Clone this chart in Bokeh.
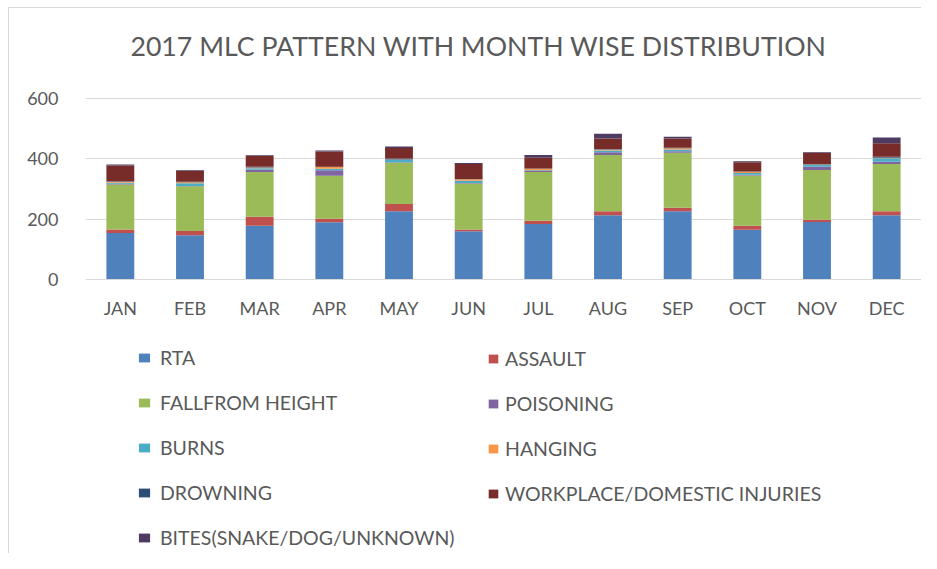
from bokeh.plotting import figure
from bokeh.models import Legend, LegendItem, Range1d, FactorRange, ColumnDataSource, Label
from bokeh.embed import file_html
from bokeh.resources import INLINE

months = ["JAN", "FEB", "MAR", "APR", "MAY", "JUN", "JUL", "AUG", "SEP", "OCT", "NOV", "DEC"]
rta       = [154, 147, 178, 190, 226, 160, 184, 213, 226, 165, 191, 213]
assault   = [12, 14, 30, 11, 24, 6, 11, 13, 12, 13, 7, 13]
fall      = [149, 148, 148, 143, 137, 152, 161, 187, 182, 167, 165, 157]
poisoning = [2, 1, 8, 18, 2, 2, 4, 9, 5, 2, 11, 7]
burns     = [4, 9, 5, 5, 8, 7, 2, 6, 6, 6, 6, 12]
hanging   = [3, 3, 2, 6, 1, 5, 5, 3, 4, 4, 1, 2]
drowning  = [2, 2, 3, 1, 3, 1, 1, 2, 2, 1, 1, 3]
workplace = [52, 36, 35, 50, 35, 50, 36, 34, 30, 31, 37, 45]
bites     = [3, 2, 3, 4, 5, 3, 9, 16, 6, 3, 3, 19]

series_names = ["RTA", "ASSAULT", "FALLFROM HEIGHT", "POISONING", "BURNS", "HANGING",
                "DROWNING", "WORKPLACE/DOMESTIC INJURIES", "BITES(SNAKE/DOG/UNKNOWN)"]
series_values = [rta, assault, fall, poisoning, burns, hanging, drowning, workplace, bites]
colors = ["#4F81BD", "#C0504D", "#9BBB59", "#8064A2", "#4BACC6", "#F79646",
          "#2C4D75", "#772C2A", "#4D3B62"]
y_ticks = [0, 200, 400, 600]
y_max = 600
title_text = "2017 MLC PATTERN WITH MONTH WISE DISTRIBUTION"

FONT = "Lato"
TXT = "#595959"
GRID = "#D9D9D9"

# layout (pixels): value axis 0..600 spans 181 px; the frame is extended up and
# down so that the title and the legends can sit inside it without clipping
W, H = 921, 553
FRAME_TOP = 8
FRAME_BOTTOM = 551
TOP_TICK_PX = 98
ZERO_PX = 279
px_per_unit = (ZERO_PX - TOP_TICK_PX) / y_max
y_hi = y_max + (TOP_TICK_PX - FRAME_TOP) / px_per_unit
y_lo = y_max - (FRAME_BOTTOM - TOP_TICK_PX) / px_per_unit

keys = ["s%d" % i for i in range(len(series_names))]
data = {"month": months}
for k, v in zip(keys, series_values):
    data[k] = v
source = ColumnDataSource(data)

p = figure(width=W, height=H, x_range=FactorRange(*months), y_range=Range1d(y_lo, y_hi),
           output_backend="svg", toolbar_location=None,
           min_border_left=85, min_border_right=0, min_border_top=FRAME_TOP,
           min_border_bottom=H - FRAME_BOTTOM)
p.styles = {
    "background": "linear-gradient(#D9D9D9, #D9D9D9) 8px 7px / 1px 100% no-repeat, "
                  "linear-gradient(#D9D9D9, #D9D9D9) 8px 7px / 100% 1px no-repeat, #FFFFFF"
}

renderers = p.vbar_stack(keys, x="month", width=0.4, color=colors, line_color=None, source=source)

p.outline_line_color = None
p.background_fill_color = "white"
p.border_fill_alpha = 0

p.xgrid.grid_line_color = None
p.ygrid.grid_line_color = GRID
p.ygrid.grid_line_width = 1
p.ygrid.level = "underlay"

p.yaxis.ticker = y_ticks
p.yaxis.axis_line_color = None
p.yaxis.major_tick_line_color = None
p.yaxis.minor_tick_line_color = None
p.yaxis.major_label_text_font = FONT
p.yaxis.major_label_text_font_size = "18px"
p.yaxis.major_label_text_color = TXT
p.yaxis.major_label_standoff = 21

p.xaxis.fixed_location = 0
p.xaxis.axis_line_color = GRID
p.xaxis.major_tick_line_color = None
p.xaxis.minor_tick_line_color = None
p.xaxis.major_label_text_font = FONT
p.xaxis.major_label_text_font_size = "18px"
p.xaxis.major_label_text_color = TXT
p.xaxis.major_label_standoff = 11

title = Label(x=393, y=FRAME_BOTTOM - 45, x_units="screen", y_units="screen",
              text=title_text, text_align="center", text_baseline="middle",
              text_font=FONT, text_font_size="26.7px", text_color=TXT)
p.add_layout(title)

items = [LegendItem(label=n, renderers=[r]) for n, r in zip(series_names, renderers)]

def make_legend(its, loc, gw, standoff):
    return Legend(items=its, location=loc, orientation="vertical",
                  glyph_width=gw, glyph_height=11, label_height=22,
                  label_standoff=standoff, spacing=22, padding=0, margin=0,
                  border_line_color=None, background_fill_alpha=0,
                  label_text_font=FONT, label_text_font_size="19.5px",
                  label_text_color=TXT)

p.add_layout(make_legend(items[0::2], (52, 2), 14, 9))
p.add_layout(make_legend(items[1::2], (402, 46), 12, 6))

open("out.html", "w").write(file_html(p, INLINE))
